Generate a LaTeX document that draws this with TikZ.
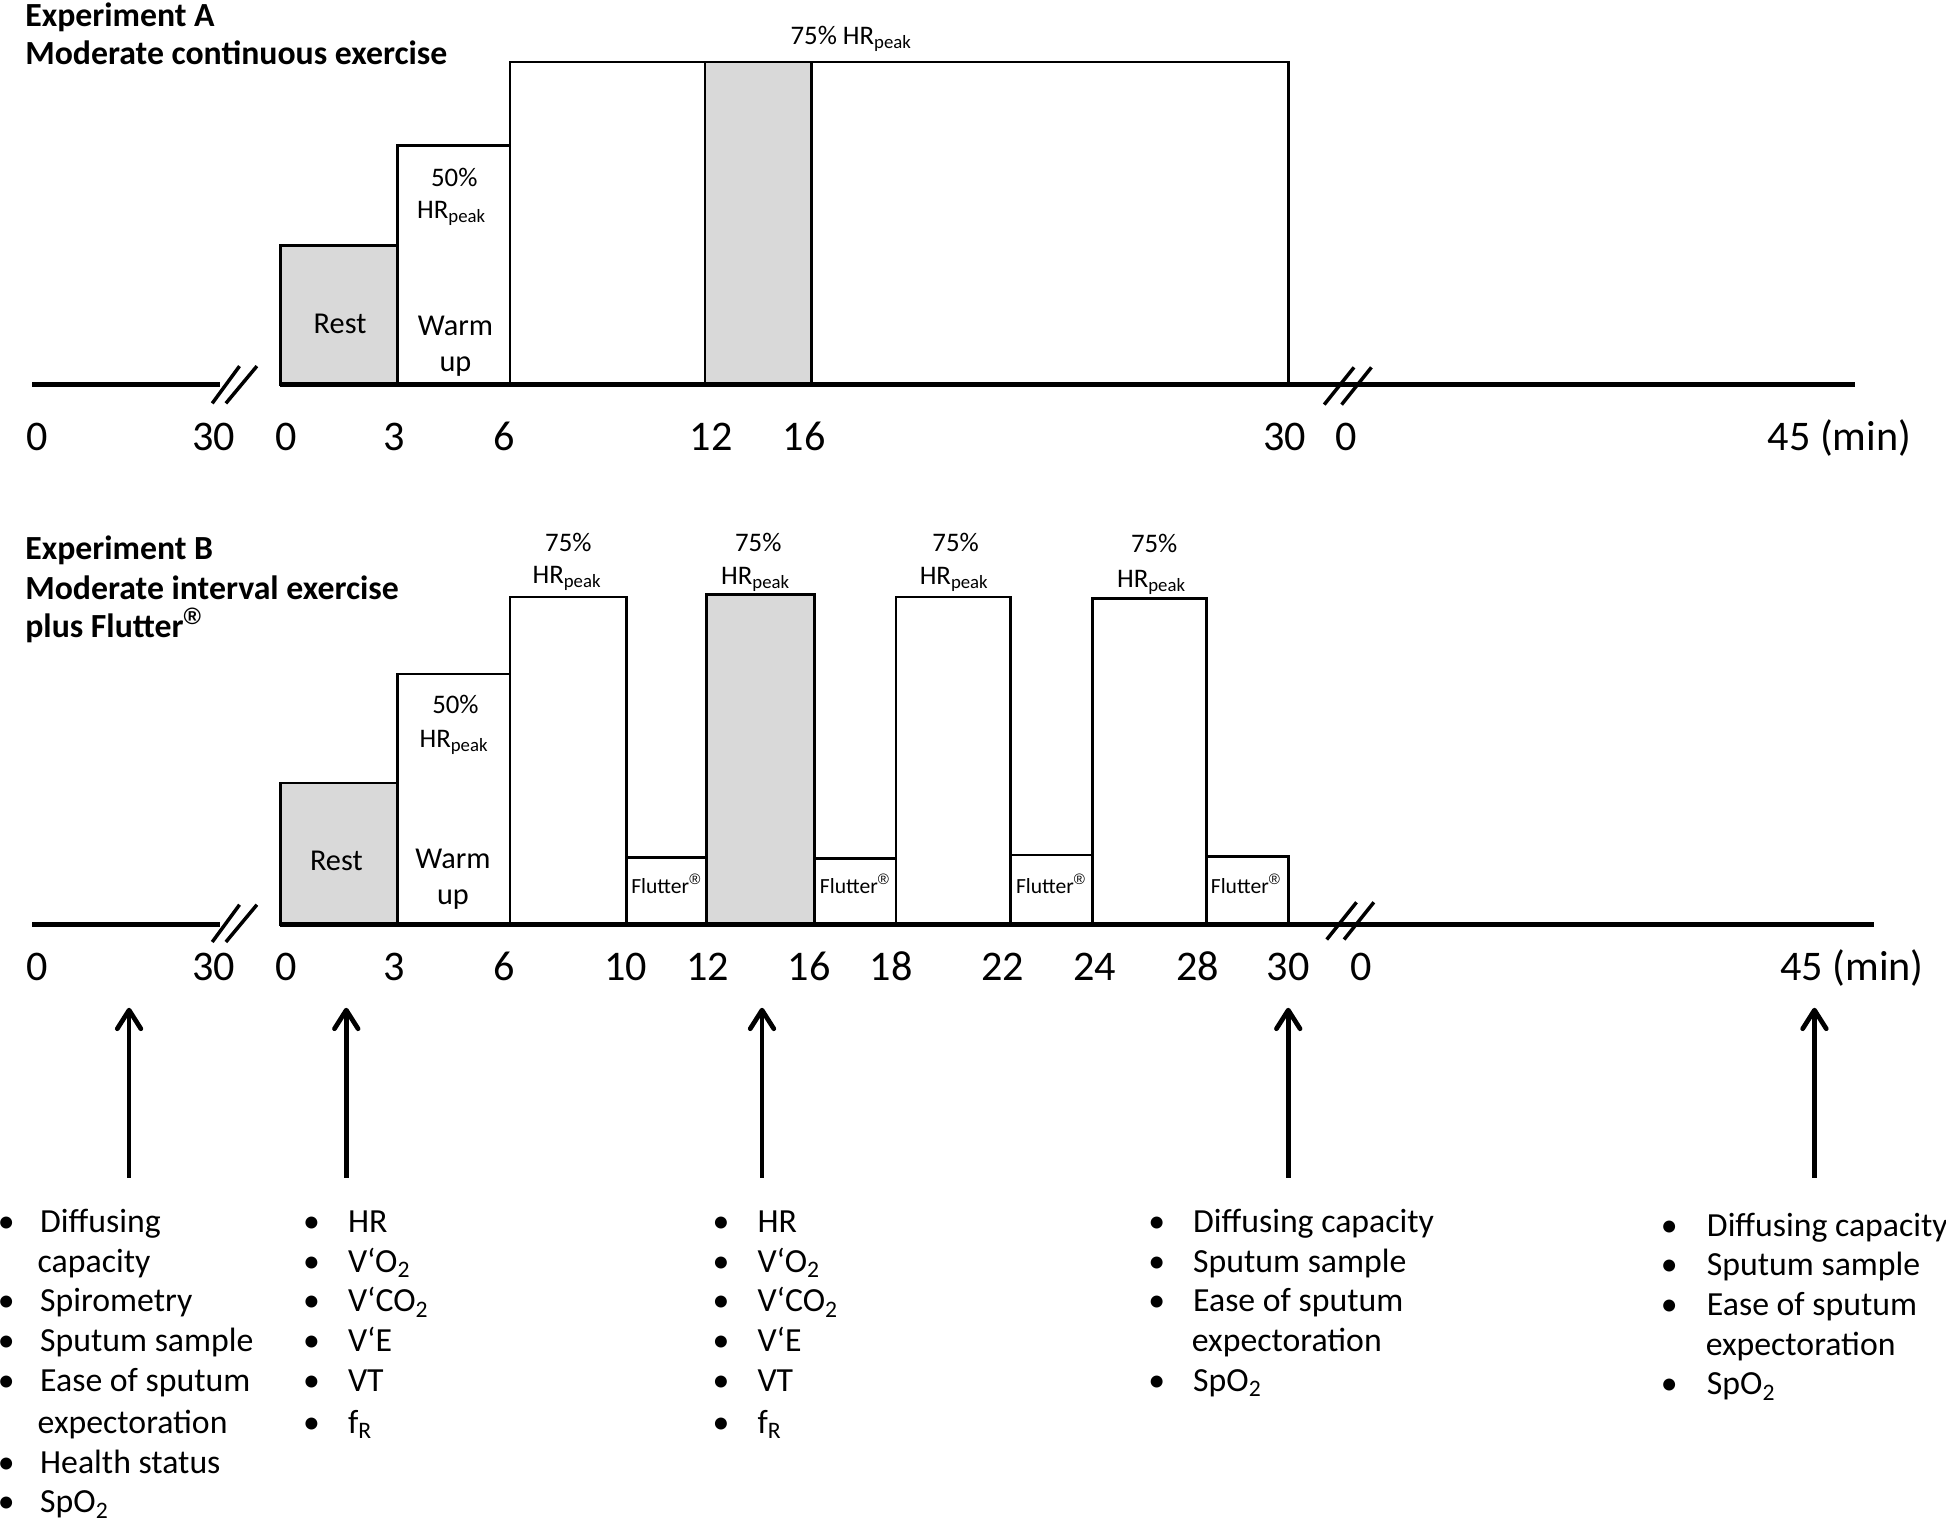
\documentclass[tikz,border=0pt]{standalone}
\usepackage{fontspec}
\setmainfont{Carlito}
\newfontfamily\regfont{Liberation Sans}
\newcommand\regmark{\textsuperscript{\regfont ®}}
\usetikzlibrary{arrows.meta}
\definecolor{restgray}{HTML}{D9D9D9}
\begin{document}
\begin{tikzpicture}[x=0.5pt,y=-0.5pt,
  axisline/.style={line width=2.1pt},
  brk/.style={line width=1.4pt},
  bar/.style={draw=black,line width=1.1pt,fill=white},
  barg/.style={draw=black,line width=1.1pt,fill=restgray},
  tick/.style={font=\fontsize{17}{20}\selectfont,anchor=base,inner sep=0pt},
  ttl/.style={font=\fontsize{13.6}{16}\selectfont\bfseries,anchor=base west,inner sep=0pt},
  small/.style={font=\fontsize{10.8}{13}\selectfont,anchor=base,inner sep=0pt},
  phase/.style={font=\fontsize{12.2}{14}\selectfont,anchor=base,inner sep=0pt},
  flut/.style={font=\fontsize{8.7}{10}\selectfont,anchor=base,inner sep=0pt},
  blt/.style={font=\fontsize{13.6}{16}\selectfont,anchor=base,inner sep=0pt},
  itm/.style={font=\fontsize{13.6}{16}\selectfont,anchor=base west,inner sep=0pt},
  meas/.style={line width=1.9pt,-{Straight Barb[length=7.5pt,width=9.5pt,line cap=round,line join=round]}}
]
\useasboundingbox (0,0) rectangle (1568,1226);

% ---------------- Experiment A ----------------
\node[ttl] (tA1) at (20,21) {Experiment A};
\node[ttl] (tA2) at (20,52) {Moderate continuous exercise};

\draw[barg] (226,310) rectangle (320,198);
\draw[bar]  (320,310) rectangle (411,117);
\draw[bar]  (411,310) rectangle (1038,50);
\draw[barg] (568,310) rectangle (654,50);

\node[small] (a75) at (686,36) {75\% HR\textsubscript{peak}};
\node[small] (a50) at (366,150) {50\%};
\node[small] (a50h) at (364,176) {HR\textsubscript{peak}};
\node[phase] (aRest) at (274,269) {Rest};
\node[phase] (aWarm) at (367,270) {Warm};
\node[phase] (aUp) at (367,299) {up};

\draw[axisline] (26,310) -- (177,310);
\draw[axisline] (226,310) -- (1495,310);
\draw[brk] (171,325) -- (193,295);
\draw[brk] (182,325) -- (207,295);
\draw[brk] (1067,326) -- (1091,296);
\draw[brk] (1081,326) -- (1105,296);

\foreach \v/\x [count=\i] in {0/30,30/172,0/231,3/318,6/406,12/573,16/648,30/1035,0/1085}
  \node[tick] (ta\i) at (\x,363) {\v};
\node[tick,anchor=base west] (taEnd) at (1424,363) {45 (min)};

% ---------------- Experiment B ----------------
\node[ttl] (tB1) at (20,451) {Experiment B};
\node[ttl] (tB2) at (20,483) {Moderate interval exercise};
\node[ttl] (tB3) at (20,514) {plus Flutter\regmark};

\draw[barg] (226,745) rectangle (320,631);
\draw[bar]  (320,745) rectangle (411,543);
\draw[bar]  (411,745) rectangle (505,481);
\draw[bar]  (505,745) rectangle (569,691);
\draw[barg] (569,745) rectangle (656,479);
\draw[bar]  (656,745) rectangle (722,692);
\draw[bar]  (722,745) rectangle (814,481);
\draw[bar]  (814,745) rectangle (880,689);
\draw[bar]  (880,745) rectangle (972,482);
\draw[bar]  (972,745) rectangle (1038,690);

\node[small] (b75a) at (458,444) {75\%};
\node[small] (b75ah) at (457,470) {HR\textsubscript{peak}};
\node[small] (b75b) at (611,444) {75\%};
\node[small] (b75bh) at (609,471) {HR\textsubscript{peak}};
\node[small] (b75c) at (770,444) {75\%};
\node[small] (b75ch) at (769,471) {HR\textsubscript{peak}};
\node[small] (b75d) at (930,445) {75\%};
\node[small] (b75dh) at (928,473) {HR\textsubscript{peak}};
\node[small] (b50) at (367,575) {50\%};
\node[small] (b50h) at (366,602) {HR\textsubscript{peak}};
\node[phase] (bRest) at (271,701) {Rest};
\node[phase] (bWarm) at (365,700) {Warm};
\node[phase] (bUp) at (365,729) {up};
\foreach \x [count=\i] in {537,689,847,1004}
  \node[flut] (fl\i) at (\x,720) {Flutter\regmark};

\draw[axisline] (26,745) -- (177,745);
\draw[axisline] (226,745) -- (1510,745);
\draw[brk] (171,759) -- (193,729);
\draw[brk] (182,759) -- (207,729);
\draw[brk] (1069,757) -- (1093,727);
\draw[brk] (1083,757) -- (1107,727);

\foreach \v/\x [count=\i] in {0/30,30/172,0/231,3/318,6/406,10/504,12/570,16/652,18/718,22/808,24/882,28/965,30/1038,0/1097}
  \node[tick] (tb\i) at (\x,790) {\v};
\node[tick,anchor=base west] (tbEnd) at (1434,790) {45 (min)};

% ---------------- measurement arrows ----------------
\foreach \x [count=\i] in {104,279,614,1038,1462}{
  \coordinate (m\i b) at (\x,949);
  \coordinate (m\i t) at (\x,812);
  \draw[meas] (m\i b) -- (m\i t);
}

% ---------------- lists ----------------
% list 1
\foreach \t/\y [count=\i] in {Diffusing/985,Spirometry/1049,Sputum sample/1081,Ease of sputum/1113,Health status/1179,{SpO\textsubscript{2}}/1211}{
  \node[blt] (p1b\i) at (5,\y+8) {•};
  \node[itm] (p1t\i) at (32,\y+8) {\t};
}
\node[itm] (p1c1) at (30,1025) {capacity};
\node[itm] (p1c2) at (30,1155) {expectoration};
% list 2 and 3
\foreach \bx/\tx/\n in {251/280/2,581/610/3}{
  \foreach \t/\y [count=\i] in {HR/985,{V‘O\textsubscript{2}}/1017,{V‘CO\textsubscript{2}}/1049,V‘E/1081,VT/1113,{f\textsubscript{R}}/1147}{
    \node[blt] (p\n b\i) at (\bx,\y+8) {•};
    \node[itm] (p\n t\i) at (\tx,\y+8) {\t};
  }
}
% list 4 and 5
\foreach \bx/\tx/\dy/\n in {932/961/0/4,1345/1375/3/5}{
  \foreach \t/\y [count=\i] in {Diffusing capacity/985,Sputum sample/1017,Ease of sputum/1049,{SpO\textsubscript{2}}/1113}{
    \node[blt] (p\n b\i) at (\bx,\y+8+\dy) {•};
    \node[itm] (p\n t\i) at (\tx,\y+8+\dy) {\t};
  }
  \node[itm] (p\n c) at (\tx-1,1089+\dy) {expectoration};
}
\end{tikzpicture}
\end{document}
